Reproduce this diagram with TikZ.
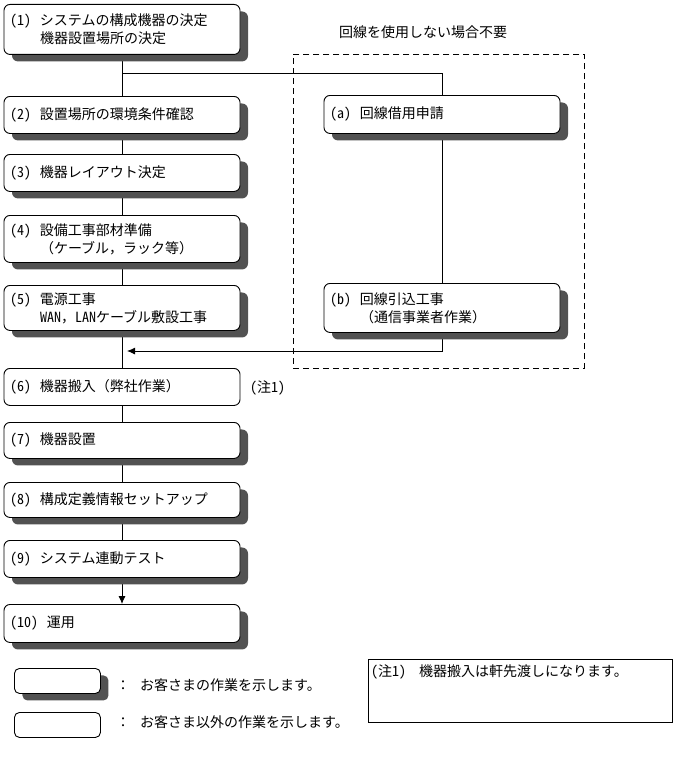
\documentclass[tikz,border=0pt]{standalone}
\usepackage{fontspec}
\setmainfont{Noto Sans CJK JP}
\newfontfamily\hwfont{Noto Sans CJK JP}[RawFeature=+hwid]
\usetikzlibrary{shadows,arrows.meta,backgrounds}
\newcommand\jpfont{\fontsize{14}{18}\selectfont}
\newcommand\numlab[2][30pt]{\makebox[#1][l]{\hwfont #2}}
\tikzset{
  flowbox/.style={draw, fill=white, rounded corners=6pt, line width=0.9pt,
    text width=224pt, align=left, inner xsep=6pt, inner ysep=0pt, anchor=north},
  shadowed/.style={drop shadow={shadow xshift=8pt, shadow yshift=-7pt, fill=black!68, opacity=1}},
  conn/.style={line width=0.9pt},
  legbox/.style={draw, fill=white, rounded corners=5pt, line width=0.9pt,
    minimum width=86pt, minimum height=25pt, anchor=north west, inner sep=0pt},
  plaintext/.style={inner sep=0pt},
  every node/.style={font=\jpfont},
}
\begin{document}
\begin{tikzpicture}[x=1pt,y=-1pt]
\useasboundingbox (0,0) rectangle (675,760);
% main flow
\node[flowbox, shadowed, minimum height=50pt] (n1) at (122,4)
  {\numlab{(1)}システムの構成機器の決定\\\hspace*{30pt}機器設置場所の決定};
\node[flowbox, shadowed, minimum height=37pt] (n2) at (122,96)
  {\numlab{(2)}設置場所の環境条件確認};
\node[flowbox, shadowed, minimum height=37pt] (n3) at (122,154)
  {\numlab{(3)}機器レイアウト決定};
\node[flowbox, shadowed, minimum height=47pt] (n4) at (122,215)
  {\numlab{(4)}設備工事部材準備\\\hspace*{30pt}（ケーブル，ラック等）};
\node[flowbox, shadowed, minimum height=45pt] (n5) at (122,285)
  {\numlab{(5)}電源工事\\\hspace*{30pt}{\hwfont WAN}，{\hwfont LAN}ケーブル敷設工事};
\node[flowbox, minimum height=37pt] (n6) at (122,368)
  {\numlab{(6)}機器搬入（弊社作業）};
\node[flowbox, shadowed, minimum height=36pt] (n7) at (122,422)
  {\numlab{(7)}機器設置};
\node[flowbox, shadowed, minimum height=35pt] (n8) at (122,482)
  {\numlab{(8)}構成定義情報セットアップ};
\node[flowbox, shadowed, minimum height=37pt] (n9) at (122,540)
  {\numlab{(9)}システム連動テスト};
\node[flowbox, shadowed, minimum height=38pt] (n10) at (122,604)
  {\numlab[37pt]{(10)}運用};
% line branch
\node[flowbox, shadowed, minimum height=38pt] (na) at (442,95)
  {\numlab{(a)}回線借用申請};
\node[flowbox, shadowed, minimum height=49pt] (nb) at (442,283)
  {\numlab{(b)}回線引込工事\\\hspace*{30pt}（通信事業者作業）};
\node[draw, dashed, dash pattern=on 6pt off 4pt, line width=0.9pt, minimum width=291pt,
  minimum height=314pt, anchor=north west, inner sep=0pt] (grp) at (293,54) {};
\node[plaintext] (title) at (423,32) {回線を使用しない場合不要};
\node[plaintext, anchor=west] (n6note) at (250,388) {\hwfont(注1)};
% connectors
\coordinate (j1) at (122,73);
\coordinate (j2) at (127,351);
\begin{scope}[on background layer]
\draw[conn] (n1) -- (n2) -- (n3) -- (n4) -- (n5) -- (n6) -- (n7) -- (n8) -- (n9);
\draw[conn, -{Latex[length=8pt,width=7pt]}] (n9) -- (n10);
\draw[conn] (j1) -| (na.north);
\draw[conn] (na) -- (nb);
\draw[conn, -{Latex[length=8pt,width=7pt]}] (nb.south) |- (j2);
\end{scope}
% legend
\node[legbox, shadowed] (lg1) at (14,668) {};
\node[legbox] (lg2) at (14,712) {};
\node[plaintext, anchor=west] (lt1) at (116,685) {：\hspace{10pt}お客さまの作業を示します。};
\node[plaintext, anchor=west] (lt2) at (116,722) {：\hspace{10pt}お客さま以外の作業を示します。};
% note box
\node[draw, line width=0.9pt, minimum width=304pt, minimum height=63pt, anchor=north west, inner sep=0pt] (notebox) at (368,659) {};
\node[plaintext, anchor=west] (notetext) at (371,672) {\makebox[48pt][l]{\hwfont(注1)}機器搬入は軒先渡しになります。};
\end{tikzpicture}
\end{document}
